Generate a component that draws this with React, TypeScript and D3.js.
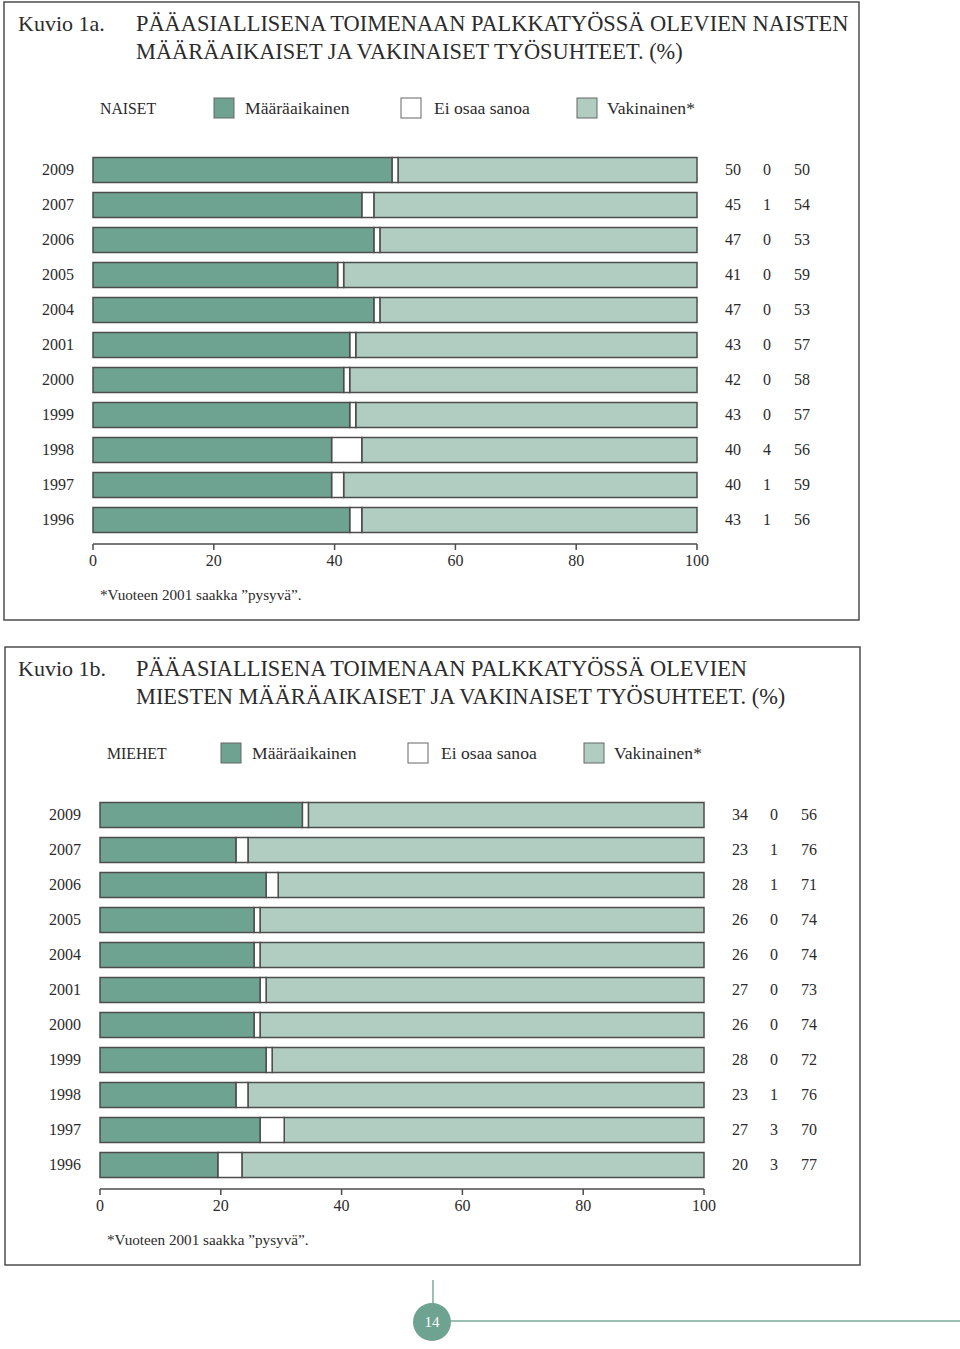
import React from "react";
import * as d3 from "d3";

const years = ["2009", "2007", "2006", "2005", "2004", "2001", "2000", "1999", "1998", "1997", "1996"];
const womenFixed = [50, 45, 47, 41, 47, 43, 42, 43, 40, 40, 43];
const womenUnknown = [0, 1, 0, 0, 0, 0, 0, 0, 4, 1, 1];
const womenPermanent = [50, 54, 53, 59, 53, 57, 58, 57, 56, 59, 56];
const menFixed = [34, 23, 28, 26, 26, 27, 26, 28, 23, 27, 20];
const menUnknown = [0, 1, 1, 0, 0, 0, 0, 0, 1, 3, 3];
const menPermanent = [56, 76, 71, 74, 74, 73, 74, 72, 76, 70, 77];
const axisTicks = [0, 20, 40, 60, 80, 100];
const legendLabels = ["Määräaikainen", "Ei osaa sanoa", "Vakinainen*"];

const DARK = "#6fa391";
const LIGHT = "#b1cdc1";
const STROKE = "#4d4d4d";
const TEXT = "#2b2b2b";
const FONT = "'Liberation Serif', 'DejaVu Serif', serif";

type PanelProps = {
  dx: number;
  dy: number;
  boxX: number;
  label: string;
  titleNo: string;
  title1: string;
  title2: string;
  fixed: number[];
  unknown: number[];
  permanent: number[];
};

function Panel({ dx, dy, boxX, label, titleNo, title1, title2, fixed, unknown, permanent }: PanelProps) {
  const x = d3.scaleLinear().domain([0, 100]).range([93 + dx, 697 + dx]);
  const top = 152.5 + dy;
  const y = d3
    .scaleBand<string>()
    .domain(years)
    .range([top, top + 35 * years.length])
    .paddingInner(10 / 35)
    .paddingOuter(5 / 35);
  const bw = y.bandwidth();
  const axisY = 544 + dy;
  const swX = [214 + dx, 401 + dx, 577 + dx];
  const txX = [245 + dx, 434 + dx, 607 + dx];
  const swFill = [DARK, "#ffffff", LIGHT];
  const legendY = 108 + dy;
  const valX = [733 + dx, 767 + dx, 802 + dx];
  return (
    <g fontFamily={FONT} fill={TEXT}>
      <rect x={boxX} y={2 + dy} width={855} height={618} fill="none" stroke={STROKE} strokeWidth={1.5} />
      <text x={18} y={31 + dy} fontSize={22}>{titleNo}</text>
      <text x={136} y={31 + dy} fontSize={22.4}>{title1}</text>
      <text x={136} y={59 + dy} fontSize={22.4}>{title2}</text>
      <text x={100 + dx} y={legendY} dy="0.35em" fontSize={15.8}>{label}</text>
      {legendLabels.map((l, i) => (
        <g key={l}>
          <rect x={swX[i]} y={legendY - 10} width={20} height={20} fill={swFill[i]} stroke="#666" strokeWidth={1} />
          <text x={txX[i]} y={legendY} dy="0.35em" fontSize={17.6}>{l}</text>
        </g>
      ))}
      {years.map((yr, i) => {
        const y0 = y(yr) as number;
        const a = fixed[i] - 0.5;
        const b = fixed[i] + unknown[i] + 0.5;
        const cy = y0 + bw / 2;
        return (
          <g key={yr}>
            <text x={74 + dx} y={cy} dy="0.33em" fontSize={16} textAnchor="end">{yr}</text>
            <rect x={x(b)} y={y0} width={x(100) - x(b)} height={bw} fill={LIGHT} stroke={STROKE} strokeWidth={1.5} />
            <rect x={x(a)} y={y0} width={x(b) - x(a)} height={bw} fill="#ffffff" stroke={STROKE} strokeWidth={1.5} />
            <rect x={x(0)} y={y0} width={x(a) - x(0)} height={bw} fill={DARK} stroke={STROKE} strokeWidth={1.5} />
            {[fixed[i], unknown[i], permanent[i]].map((v, j) => (
              <text key={j} x={valX[j]} y={cy} dy="0.3em" fontSize={16} textAnchor="middle">{v}</text>
            ))}
          </g>
        );
      })}
      <line x1={x(0)} x2={x(100)} y1={axisY} y2={axisY} stroke={STROKE} strokeWidth={1.5} />
      {axisTicks.map((t) => (
        <g key={t}>
          <line x1={x(t)} x2={x(t)} y1={axisY} y2={axisY + 6} stroke={STROKE} strokeWidth={1.5} />
          <text x={x(t)} y={560 + dy} dy="0.35em" fontSize={16} textAnchor="middle">{t}</text>
        </g>
      ))}
      <text x={100 + dx} y={595 + dy} dy="0.35em" fontSize={15.2}>*Vuoteen 2001 saakka ”pysyvä”.</text>
    </g>
  );
}

export default function App() {
  return (
    <svg
      width={960}
      height={1349}
      style={{ position: "absolute", left: 0, top: 0, background: "#fff" }}
    >
      <rect x={0} y={0} width={960} height={1349} fill="#fff" />
      <Panel
        dx={0}
        dy={0}
        boxX={4}
        label="NAISET"
        titleNo="Kuvio 1a."
        title1="PÄÄASIALLISENA TOIMENAAN PALKKATYÖSSÄ OLEVIEN NAISTEN"
        title2="MÄÄRÄAIKAISET JA VAKINAISET TYÖSUHTEET. (%)"
        fixed={womenFixed}
        unknown={womenUnknown}
        permanent={womenPermanent}
      />
      <Panel
        dx={7}
        dy={645}
        boxX={5}
        label="MIEHET"
        titleNo="Kuvio 1b."
        title1="PÄÄASIALLISENA TOIMENAAN PALKKATYÖSSÄ OLEVIEN"
        title2="MIESTEN MÄÄRÄAIKAISET JA VAKINAISET TYÖSUHTEET. (%)"
        fixed={menFixed}
        unknown={menUnknown}
        permanent={menPermanent}
      />
      <line x1={433} x2={433} y1={1280} y2={1304} stroke="#7aaa99" strokeWidth={1.5} />
      <line x1={450} x2={960} y1={1321} y2={1321} stroke="#7aaa99" strokeWidth={1.5} />
      <circle cx={432} cy={1322} r={19} fill={DARK} />
      <text x={432} y={1322} dy="0.35em" fontSize={15} fill="#fff" textAnchor="middle" fontFamily={FONT}>14</text>
    </svg>
  );
}
